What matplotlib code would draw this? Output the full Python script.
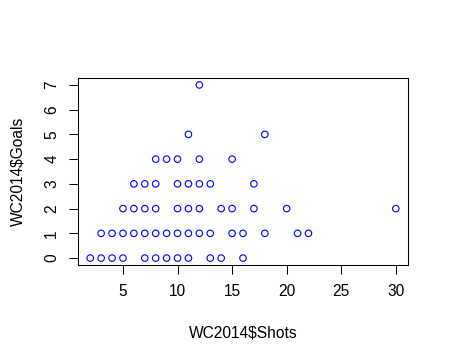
import matplotlib
matplotlib.use("Agg")
import matplotlib.pyplot as plt

plt.rcParams["font.family"] = ["Liberation Sans", "DejaVu Sans"]

# shots per goal count
goals_0 = [2, 3, 4, 5, 7, 8, 9, 10, 11, 13, 14, 16]
goals_1 = [3, 4, 5, 6, 7, 8, 9, 10, 11, 12, 13, 15, 16, 18, 21, 22]
goals_2 = [5, 6, 7, 8, 10, 11, 12, 14, 15, 17, 20, 30]
goals_3 = [6, 7, 8, 10, 11, 12, 13, 17]
goals_4 = [8, 9, 10, 12, 15]
goals_5 = [11, 18]
goals_7 = [12]

groups = {0: goals_0, 1: goals_1, 2: goals_2, 3: goals_3,
          4: goals_4, 5: goals_5, 7: goals_7}
shots = []
goals = []
for g, xs in groups.items():
    shots += xs
    goals += [g] * len(xs)

fig = plt.figure(figsize=(4.49, 3.63), dpi=100)
ax = fig.add_axes([78 / 449, 1 - 265 / 363, 330 / 449, 187 / 363])

ax.scatter(shots, goals, s=22, facecolors="none", edgecolors="blue", linewidths=0.8)

# R style 4% range extension
xmin, xmax = min(shots), max(shots)
ymin, ymax = min(goals), max(goals)
dx = (xmax - xmin) * 0.04
dy = (ymax - ymin) * 0.04
ax.set_xlim(xmin - dx, xmax + dx)
ax.set_ylim(ymin - dy, ymax + dy)

ax.set_xticks([5, 10, 15, 20, 25, 30])
ax.set_yticks(range(0, 8))
ax.tick_params(length=6.5, width=0.75, labelsize=11.2, pad=7)
for lab in ax.get_yticklabels():
    lab.set_rotation(90)
    lab.set_va("center")
for sp in ax.spines.values():
    sp.set_linewidth(0.75)

fig.text(243 / 449, 1 - 333 / 363, "WC2014$Shots", ha="center", va="center", fontsize=11.2)
fig.text(18 / 449, 1 - 171 / 363, "WC2014$Goals", ha="center", va="center",
         rotation=90, fontsize=11.2)

fig.savefig("out.png", dpi=100)
